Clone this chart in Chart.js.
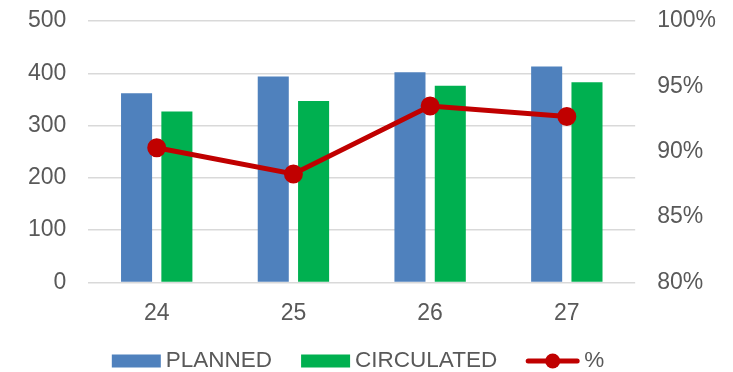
<!DOCTYPE html>
<html lang="en">
<head>
    <meta charset="UTF-8">
    <title>Planned vs Circulated</title>
    <script src="https://cdn.jsdelivr.net/npm/chart.js"></script>
    <style>
        html, body { margin: 0; padding: 0; background: #fff; }
        #wrap { width: 733px; height: 372px; }
    </style>
</head>
<body>
    <div id="wrap"><canvas id="chart"></canvas></div>
    <script>
        const categories = ['24', '25', '26', '27'];
        const planned = [362, 394, 402, 413];
        const circulated = [327, 347, 376, 383];
        const percent = [90.3, 88.3, 93.5, 92.7];

        const FONT = "'Liberation Sans', Arial, sans-serif";
        const TEXT = '#595959';
        const RED = '#c00000';

        // legend drawn by hand: bars get a wide swatch, the line gets a stroke with a dot
        const bottomLegend = {
            id: 'bottomLegend',
            afterDraw(chart) {
                const g = chart.ctx;
                const y = 361;
                const swatch = 49, textGap = 5, itemGap = 29;
                g.save();
                g.font = '22.5px ' + FONT;
                g.textBaseline = 'middle';
                const items = [1, 2, 0].map(i => chart.data.datasets[i]);
                const widths = items.map(ds => swatch + textGap + g.measureText(ds.label).width);
                const total = widths.reduce((a, b) => a + b, 0) + itemGap * (items.length - 1);
                let x = 356 - total / 2;
                items.forEach((ds, k) => {
                    if (ds.type === 'bar') {
                        g.fillStyle = ds.backgroundColor;
                        g.fillRect(x, y - 6.5, swatch, 13);
                    } else {
                        g.strokeStyle = ds.borderColor;
                        g.lineWidth = 5;
                        g.lineCap = 'round';
                        g.beginPath();
                        g.moveTo(x + 2, y); g.lineTo(x + swatch + 2, y);
                        g.stroke();
                        g.fillStyle = ds.backgroundColor;
                        g.beginPath();
                        g.arc(x + swatch / 2 + 2, y, 7.5, 0, Math.PI * 2);
                        g.fill();
                    }
                    g.fillStyle = TEXT;
                    g.fillText(ds.label, x + swatch + textGap + (ds.type === 'bar' ? 0 : 4), y);
                    x += widths[k] + itemGap;
                });
                g.restore();
            }
        };

        // keep the top tick label from pushing the plot down
        const trimTop = scale => { scale.paddingTop = 21; };

        const ctx = document.getElementById('chart').getContext('2d');
        new Chart(ctx, {
            data: {
                labels: categories,
                datasets: [
                    {
                        type: 'line',
                        label: '%',
                        data: percent,
                        yAxisID: 'y2',
                        borderColor: RED,
                        backgroundColor: RED,
                        borderWidth: 5,
                        pointRadius: 7,
                        pointHoverRadius: 7,
                        tension: 0,
                        order: 0
                    },
                    {
                        type: 'bar',
                        label: 'PLANNED',
                        data: planned,
                        yAxisID: 'y',
                        backgroundColor: '#4f81bd',
                        categoryPercentage: 0.59,
                        barPercentage: 0.77,
                        order: 1
                    },
                    {
                        type: 'bar',
                        label: 'CIRCULATED',
                        data: circulated,
                        yAxisID: 'y',
                        backgroundColor: '#00b050',
                        categoryPercentage: 0.59,
                        barPercentage: 0.77,
                        order: 2
                    }
                ]
            },
            options: {
                responsive: true,
                maintainAspectRatio: false,
                animation: false,
                layout: { padding: { left: 6, right: -5, top: 0, bottom: 28 } },
                plugins: {
                    tooltip: { enabled: false },
                    legend: { display: false }
                },
                scales: {
                    x: {
                        grid: { display: false, drawTicks: false },
                        border: { display: false },
                        ticks: { color: TEXT, font: { family: FONT, size: 23 }, padding: 17 }
                    },
                    y: {
                        position: 'left',
                        min: 0,
                        max: 500,
                        afterFit: trimTop,
                        ticks: { stepSize: 100, color: TEXT, font: { family: FONT, size: 23 }, padding: 22 },
                        grid: { color: '#d9d9d9', lineWidth: 1.5, drawTicks: false },
                        border: { display: false }
                    },
                    y2: {
                        position: 'right',
                        min: 80,
                        max: 100,
                        afterFit: trimTop,
                        ticks: {
                            stepSize: 5,
                            color: TEXT,
                            font: { family: FONT, size: 23 },
                            padding: 22,
                            callback: v => v + '%'
                        },
                        grid: { display: false, drawTicks: false },
                        border: { display: false }
                    }
                }
            },
            plugins: [bottomLegend]
        });
    </script>
</body>
</html>
